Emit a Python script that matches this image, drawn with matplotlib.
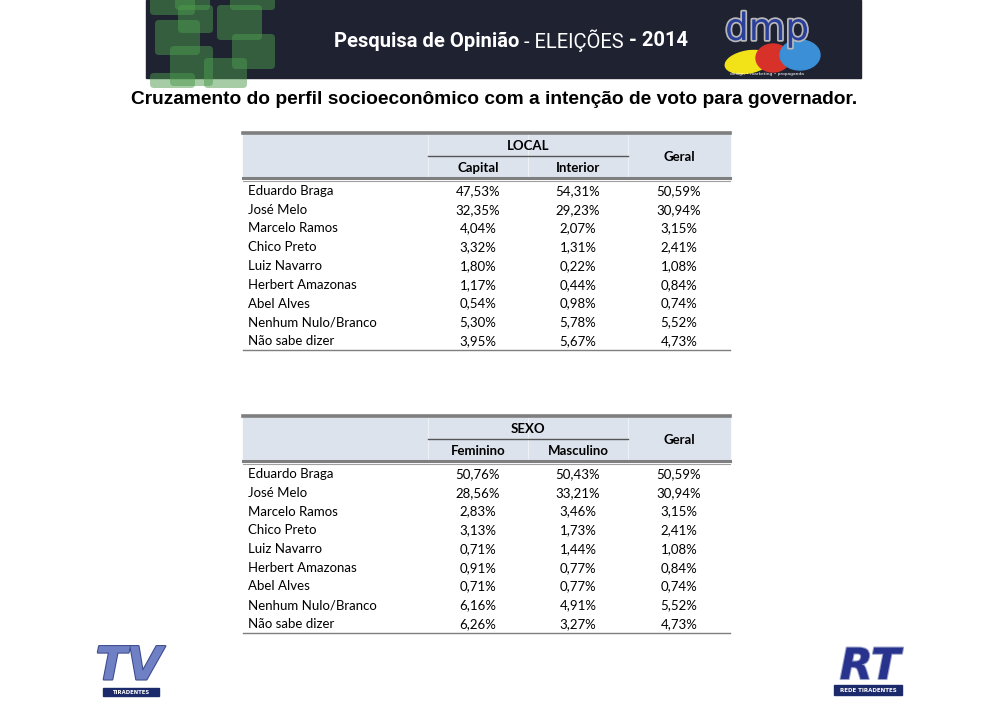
import matplotlib.pyplot as plt
import matplotlib.patheffects as pe
from matplotlib.patches import FancyBboxPatch, Rectangle, Ellipse

candidatos = ["Eduardo Braga", "José Melo", "Marcelo Ramos", "Chico Preto",
              "Luiz Navarro", "Herbert Amazonas", "Abel Alves",
              "Nenhum Nulo/Branco", "Não sabe dizer"]
capital = ["47,53%", "32,35%", "4,04%", "3,32%", "1,80%", "1,17%", "0,54%", "5,30%", "3,95%"]
interior = ["54,31%", "29,23%", "2,07%", "1,31%", "0,22%", "0,44%", "0,98%", "5,78%", "5,67%"]
feminino = ["50,76%", "28,56%", "2,83%", "3,13%", "0,71%", "0,91%", "0,71%", "6,16%", "6,26%"]
masculino = ["50,43%", "33,21%", "3,46%", "1,73%", "1,44%", "0,77%", "0,77%", "4,91%", "3,27%"]
geral = ["50,59%", "30,94%", "3,15%", "2,41%", "1,08%", "0,84%", "0,74%", "5,52%", "4,73%"]

FONT = "Lato"

fig = plt.figure(figsize=(10, 7.07), dpi=100)
ax = fig.add_axes([0, 0, 1, 1])
ax.set_xlim(0, 1000)
ax.set_ylim(707, 0)
ax.axis("off")

# banner
ax.add_patch(Rectangle((146, 0), 715, 78, color="#1f2231", zorder=1))
squares = [(150, -5, 45, 20), (175, -5, 35, 15), (230, -5, 45, 15), (155, 20, 45, 35),
           (178, 5, 35, 28), (217, 5, 45, 35), (232, 34, 43, 35), (170, 46, 43, 40),
           (204, 58, 43, 30), (150, 73, 45, 15)]
for x, y, w, h in squares:
    ax.add_patch(FancyBboxPatch((x, y), w, h, boxstyle="round,pad=0,rounding_size=4",
                                fc="#4c9a4c", ec="none", alpha=0.5, zorder=2))
t1 = ax.text(334, 41, "Pesquisa de Opinião", color="white", fontsize=14.5, fontweight="bold",
             family="Roboto", va="center", ha="left", zorder=3)
t2 = ax.annotate(" - ELEIÇÕES", xy=(1, 0.5), xycoords=t1, color="white", fontsize=14.5,
                 family="Roboto", va="center", ha="left", zorder=3)
ax.annotate(" - 2014", xy=(1, 0.5), xycoords=t2, color="white", fontsize=14.5,
            fontweight="bold", family="Roboto", va="center", ha="left", zorder=3)

# dmp logo
ax.add_patch(Ellipse((748, 62), 46, 22, angle=-10, color="#f2e318", zorder=3))
ax.add_patch(Ellipse((773, 58), 34, 28, color="#d8312a", zorder=3))
ax.add_patch(Ellipse((800, 55), 40, 30, color="#3b8fd6", zorder=3))
ax.text(767, 30, "dmp", color="#2a3f9a", fontsize=27, family="DejaVu Sans",
        ha="center", va="center", zorder=4,
        path_effects=[pe.withStroke(linewidth=2.5, foreground="#b8b8b8")])
ax.text(767, 74, "design • marketing • propaganda", color="white", fontsize=3.2,
        ha="center", va="center", zorder=4)

# subtitle
ax.text(494, 100, "Cruzamento do perfil socioeconômico com a intenção de voto para governador.",
        fontsize=13.8, fontweight="bold", family="Liberation Sans", ha="center", va="center")

x0, x1, x2, x3, x4 = 243, 428, 528, 628, 730
centers = [(x1 + x2) / 2, (x2 + x3) / 2, (x3 + x4) / 2]


def draw_table(top, grupo, subcols, col_a, col_b):
    ax.add_patch(Rectangle((x0, top), x4 - x0, 45, color="#dde3ed", zorder=1))
    ax.plot([x0, x4], [top, top], color="#7f7f7f", lw=2.6, zorder=2)
    ax.plot([x0, x4], [top + 45, top + 45], color="#7f7f7f", lw=2.2, zorder=2)
    ax.plot([x0, x4], [top + 47.5, top + 47.5], color="#a0a0a0", lw=0.8, zorder=2)
    for xv in (x1, x2, x3):
        ax.plot([xv, xv], [top + 2, top + 44], color="#eef1f6", lw=0.8, zorder=1)
    ax.plot([x1, x3], [top + 23, top + 23], color="#555555", lw=1.0, zorder=2)
    ax.text((x1 + x3) / 2, top + 13, grupo, family=FONT, fontsize=9.5,
            fontweight="bold", ha="center", va="center")
    ax.text(centers[0], top + 35, subcols[0], family=FONT, fontsize=9.5,
            fontweight="bold", ha="center", va="center")
    ax.text(centers[1], top + 35, subcols[1], family=FONT, fontsize=9.5,
            fontweight="bold", ha="center", va="center")
    ax.text(centers[2], top + 24, "Geral", family=FONT, fontsize=9.5,
            fontweight="bold", ha="center", va="center")
    y = top + 58
    for i, nome in enumerate(candidatos):
        yy = y + i * 18.75
        ax.text(x0 + 5, yy, nome, family=FONT, fontsize=9.5, ha="left", va="center")
        ax.text(centers[0], yy, col_a[i], family=FONT, fontsize=9.5, ha="center", va="center")
        ax.text(centers[1], yy, col_b[i], family=FONT, fontsize=9.5, ha="center", va="center")
        ax.text(centers[2], yy, geral[i], family=FONT, fontsize=9.5, ha="center", va="center")
    ax.plot([x0, x4], [top + 217, top + 217], color="#7f7f7f", lw=1.0, zorder=2)


draw_table(133, "LOCAL", ["Capital", "Interior"], capital, interior)
draw_table(416, "SEXO", ["Feminino", "Masculino"], feminino, masculino)

# TV Tiradentes logo
ax.text(129, 667, "TV", color="#7080c4", fontsize=33, fontweight="bold", style="italic",
        family="DejaVu Sans", ha="center", va="center",
        path_effects=[pe.withStroke(linewidth=1.5, foreground="#3a4a8a")])
ax.add_patch(Rectangle((103, 688), 56, 8, color="#1b2a6b", zorder=3))
ax.text(131, 692, "TIRADENTES", color="white", fontsize=3.8, fontweight="bold",
        ha="center", va="center", zorder=4)

# Rede Tiradentes logo
ax.text(870, 667, "RT", color="#27338c", fontsize=31, fontweight="bold", style="italic",
        family="DejaVu Sans", ha="center", va="center",
        path_effects=[pe.withStroke(linewidth=1.5, foreground="#9aa0c8")])
ax.add_patch(Rectangle((834, 685), 68, 10, color="#1b2a6b", zorder=3))
ax.text(868, 690, "REDE TIRADENTES", color="white", fontsize=4, fontweight="bold",
        ha="center", va="center", zorder=4)

fig.savefig("out.png", dpi=100)
